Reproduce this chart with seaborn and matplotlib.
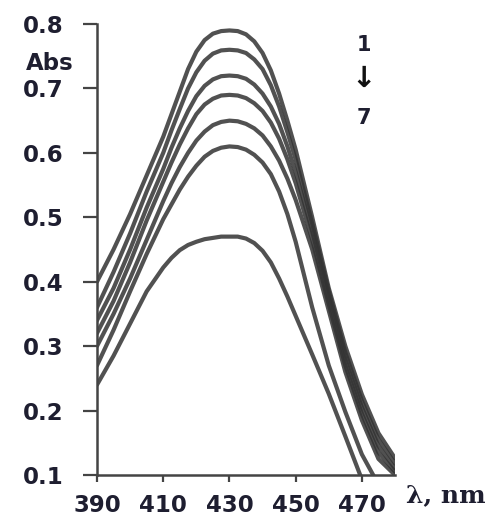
import numpy as np
import pandas as pd
import matplotlib
matplotlib.use("Agg")
import matplotlib.pyplot as plt
import seaborn as sns

# Wavelengths (nm)
wavelength = [390, 395, 400, 405, 410, 412.5, 415, 417.5, 420, 422.5, 425,
              427.5, 430, 432.5, 435, 437.5, 440, 442.5, 445, 447.5, 450,
              455, 460, 465, 470, 475, 480]

# Absorbance spectra 1 -> 7
abs1 = [0.40, 0.45, 0.505, 0.565, 0.625, 0.66, 0.695, 0.73, 0.757, 0.775,
        0.785, 0.789, 0.79, 0.789, 0.784, 0.773, 0.755, 0.728, 0.692, 0.65,
        0.605, 0.50, 0.39, 0.30, 0.225, 0.165, 0.126]
abs2 = [0.36, 0.415, 0.475, 0.54, 0.60, 0.635, 0.668, 0.70, 0.725, 0.743,
        0.754, 0.759, 0.76, 0.759, 0.755, 0.745, 0.73, 0.705, 0.672, 0.632,
        0.59, 0.49, 0.385, 0.29, 0.215, 0.155, 0.118]
abs3 = [0.34, 0.39, 0.45, 0.515, 0.575, 0.608, 0.638, 0.665, 0.688, 0.704,
        0.714, 0.719, 0.72, 0.719, 0.715, 0.706, 0.692, 0.672, 0.645, 0.61,
        0.57, 0.478, 0.375, 0.28, 0.205, 0.145, 0.11]
abs4 = [0.32, 0.37, 0.43, 0.495, 0.555, 0.585, 0.613, 0.638, 0.66, 0.675,
        0.684, 0.689, 0.69, 0.689, 0.685, 0.677, 0.665, 0.647, 0.622, 0.59,
        0.553, 0.465, 0.365, 0.27, 0.195, 0.135, 0.105]
abs5 = [0.30, 0.35, 0.405, 0.465, 0.525, 0.553, 0.578, 0.60, 0.619, 0.633,
        0.643, 0.648, 0.65, 0.649, 0.645, 0.638, 0.627, 0.61, 0.588, 0.56,
        0.527, 0.45, 0.355, 0.26, 0.185, 0.125, 0.10]
abs6 = [0.27, 0.325, 0.385, 0.443, 0.497, 0.52, 0.543, 0.563, 0.58, 0.594,
        0.603, 0.608, 0.61, 0.609, 0.605, 0.597, 0.585, 0.567, 0.54, 0.505,
        0.462, 0.36, 0.27, 0.198, 0.132, 0.085, 0.06]
abs7 = [0.24, 0.285, 0.335, 0.385, 0.422, 0.437, 0.449, 0.457, 0.462, 0.466,
        0.468, 0.47, 0.47, 0.47, 0.467, 0.46, 0.448, 0.43, 0.405, 0.377,
        0.347, 0.287, 0.226, 0.16, 0.093, 0.035, -0.02]

series_names = ["1", "2", "3", "4", "5", "6", "7"]
series_values = [abs1, abs2, abs3, abs4, abs5, abs6, abs7]

x_ticks = [390, 410, 430, 450, 470]
y_ticks = [0.1, 0.2, 0.3, 0.4, 0.5, 0.6, 0.7, 0.8]

rows = []
for name, vals in zip(series_names, series_values):
    for w, a in zip(wavelength, vals):
        rows.append({"wavelength": w, "abs": a, "spectrum": name})
df = pd.DataFrame(rows)

sns.set_theme(style="white")
plt.rcParams["font.family"] = ["DejaVu Sans"]

W, H = 492, 521
fig = plt.figure(figsize=(W / 100, H / 100), dpi=100)
ax = fig.add_axes([97 / W, 1 - 475 / H, (395 - 97) / W, (475 - 24) / H])

line_color = "#333333"
sns.lineplot(data=df, x="wavelength", y="abs", hue="spectrum",
             palette=[line_color] * 7, linewidth=3.0, alpha=0.85,
             legend=False, ax=ax, sort=False)
for ln in ax.get_lines():
    ln.set_solid_capstyle("round")
    ln.set_solid_joinstyle("round")

ax.set_xlim(390, 480)
ax.set_ylim(0.1, 0.8)
ax.set_xticks(x_ticks)
ax.set_xticklabels([str(t) for t in x_ticks])
ax.set_yticks(y_ticks)
ax.set_yticklabels([f"{t:.1f}" for t in y_ticks])

label_color = "#1e1e30"
for lab in ax.get_xticklabels() + ax.get_yticklabels():
    lab.set_fontsize(16.5)
    lab.set_fontweight("bold")
    lab.set_color(label_color)

ax.tick_params(axis="y", direction="out", length=10, width=1.6,
               color="#444444", pad=14, left=True)
ax.tick_params(axis="x", direction="out", length=5, width=1.6,
               color="#444444", pad=9, bottom=True)

for side in ["top", "right"]:
    ax.spines[side].set_visible(False)
for side in ["left", "bottom"]:
    ax.spines[side].set_color("#444444")
    ax.spines[side].set_linewidth(1.8)

ax.set_xlabel("")
ax.set_ylabel("")
ax.grid(False)

fig.text(50 / W, 1 - 63 / H, "Abs", ha="center", va="center",
         fontsize=16.5, fontweight="bold", color=label_color)
fig.text(446 / W, 1 - 495 / H, "λ, nm", ha="center", va="center",
         fontsize=18, fontweight="bold", color=label_color,
         family=["DejaVu Serif"])
fig.text(364 / W, 1 - 45 / H, "1", ha="center", va="center",
         fontsize=15, fontweight="bold", color=label_color)
fig.text(364 / W, 1 - 79 / H, "↓", ha="center", va="center",
         fontsize=21, fontweight="bold", color="#111111")
fig.text(364 / W, 1 - 118 / H, "7", ha="center", va="center",
         fontsize=15, fontweight="bold", color=label_color)

fig.savefig("out.png", dpi=100)
